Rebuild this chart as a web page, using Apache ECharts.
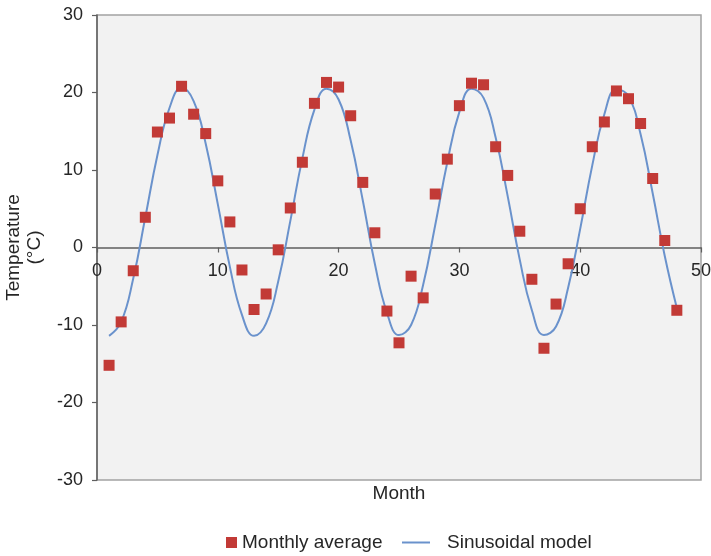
<!DOCTYPE html>
<html>
<head>
<meta charset="utf-8">
<script src="https://cdn.jsdelivr.net/npm/echarts@6/dist/echarts.min.js"></script>
<style>
  html, body { margin: 0; padding: 0; background: #ffffff; }
  #chart { width: 711px; height: 556px; }
</style>
</head>
<body>
<div id="chart"></div>
<script>
// Month index of each observation
const months = [
  1, 2, 3, 4, 5, 6, 7, 8, 9, 10, 11, 12,
  13, 14, 15, 16, 17, 18, 19, 20, 21, 22, 23, 24,
  25, 26, 27, 28, 29, 30, 31, 32, 33, 34, 35, 36,
  37, 38, 39, 40, 41, 42, 43, 44, 45, 46, 47, 48
];

// Observed monthly average temperature (°C)
const monthlyAverage = [
  -15.2, -9.6, -3.0, 3.9, 14.9, 16.7, 20.8, 17.2, 14.7, 8.6, 3.3, -2.9,
  -8.0, -6.0, -0.3, 5.1, 11.0, 18.6, 21.3, 20.7, 17.0, 8.4, 1.9, -8.2,
  -12.3, -3.7, -6.5, 6.9, 11.4, 18.3, 21.2, 21.0, 13.0, 9.3, 2.1, -4.1,
  -13.0, -7.3, -2.1, 5.0, 13.0, 16.2, 20.2, 19.2, 16.0, 8.9, 0.9, -8.1
];

// Fitted sinusoidal model (°C) at each month
const sinusoidalModel = [
  -11.4, -9.6, -4.0, 3.9, 11.9, 18.0, 20.6, 18.9, 13.4, 5.6, -2.5, -8.7,
  -11.4, -9.8, -4.4, 3.4, 11.5, 17.8, 20.5, 19.1, 13.8, 6.1, -2.1, -8.4,
  -11.3, -10.0, -4.8, 2.9, 11.0, 17.5, 20.5, 19.3, 14.2, 6.6, -1.6, -8.1,
  -11.3, -10.2, -5.2, 2.4, 10.6, 17.2, 20.4, 19.5, 14.6, 7.0, -1.1, -7.8
];

// Axis tick values
const xTicks = [0, 10, 20, 30, 40, 50];
const yTicks = [-30, -20, -10, 0, 10, 20, 30];

const FONT = '"Liberation Sans", Arial, sans-serif';
const TEXT = '#262626';

// Plot box in pixels
const GRID = { left: 97, right: 10, top: 15, bottom: 76 };
const plotHeight = 556 - GRID.top - GRID.bottom;
const yMin = yTicks[0], yMax = yTicks[yTicks.length - 1];
// shift the x axis up from the bottom edge to the y = 0 line
const xAxisLift = plotHeight * (0 - yMin) / (yMax - yMin);

const chart = echarts.init(document.getElementById('chart'), null, { renderer: 'canvas' });

chart.setOption({
  animation: false,
  backgroundColor: '#ffffff',
  textStyle: { fontFamily: FONT },
  grid: {
    left: GRID.left, right: GRID.right, top: GRID.top, bottom: GRID.bottom,
    containLabel: false,
    outerBoundsMode: 'none',
    show: true,
    backgroundColor: '#f2f2f2',
    borderColor: '#a3a3a3',
    borderWidth: 1.5
  },
  legend: [
    {
      data: [{ name: 'Monthly average', icon: 'rect' }],
      left: 226, top: 533, padding: 0,
      itemWidth: 11, itemHeight: 11,
      textStyle: { fontSize: 19, color: TEXT, fontFamily: FONT }
    },
    {
      data: [{ name: 'Sinusoidal model', icon: 'rect', itemStyle: { color: '#6a92cc' } }],
      left: 402, top: 533, padding: 0,
      itemWidth: 28, itemHeight: 2,
      textStyle: { fontSize: 19, color: TEXT, fontFamily: FONT, padding: [0, 0, 0, 12] }
    }
  ],
  graphic: [
    {
      type: 'text',
      x: 399, y: 494,
      style: {
        text: 'Month',
        fontSize: 19,
        fontFamily: FONT,
        fill: TEXT,
        align: 'center',
        verticalAlign: 'middle'
      }
    }
  ],
  xAxis: {
    type: 'value',
    min: xTicks[0],
    max: xTicks[xTicks.length - 1],
    interval: xTicks[1] - xTicks[0],
    position: 'bottom',
    offset: -xAxisLift,
    axisLine: { show: true, onZero: false, lineStyle: { color: '#5f5f5f', width: 1.5 } },
    axisTick: { show: true, length: 5, lineStyle: { color: '#5f5f5f', width: 1.2 } },
    axisLabel: { fontSize: 18, color: TEXT, fontFamily: FONT, margin: 15 },
    splitLine: { show: false }
  },
  yAxis: {
    type: 'value',
    min: yMin,
    max: yMax,
    interval: yTicks[1] - yTicks[0],
    name: 'Temperature\n(°C)',
    nameLocation: 'middle',
    nameRotate: 90,
    nameGap: 52,
    nameTextStyle: { fontSize: 19, color: TEXT, fontFamily: FONT, lineHeight: 21, align: 'center' },
    axisLine: { show: true, onZero: false, lineStyle: { color: '#5f5f5f', width: 1.5 } },
    axisTick: { show: true, length: 5, lineStyle: { color: '#5f5f5f', width: 1.2 } },
    axisLabel: { fontSize: 18, color: TEXT, fontFamily: FONT, margin: 14 },
    splitLine: { show: false }
  },
  series: [
    {
      name: 'Sinusoidal model',
      type: 'line',
      data: months.map((m, i) => [m, sinusoidalModel[i]]),
      smooth: 0.45,
      symbol: 'none',
      color: '#6a92cc',
      lineStyle: { color: '#6a92cc', width: 2 },
      z: 2
    },
    {
      name: 'Monthly average',
      type: 'scatter',
      data: months.map((m, i) => [m, monthlyAverage[i]]),
      symbol: 'rect',
      symbolSize: 11,
      color: '#c23a36',
      itemStyle: { color: '#c23a36', opacity: 1 },
      z: 3
    }
  ]
});
</script>
</body>
</html>
